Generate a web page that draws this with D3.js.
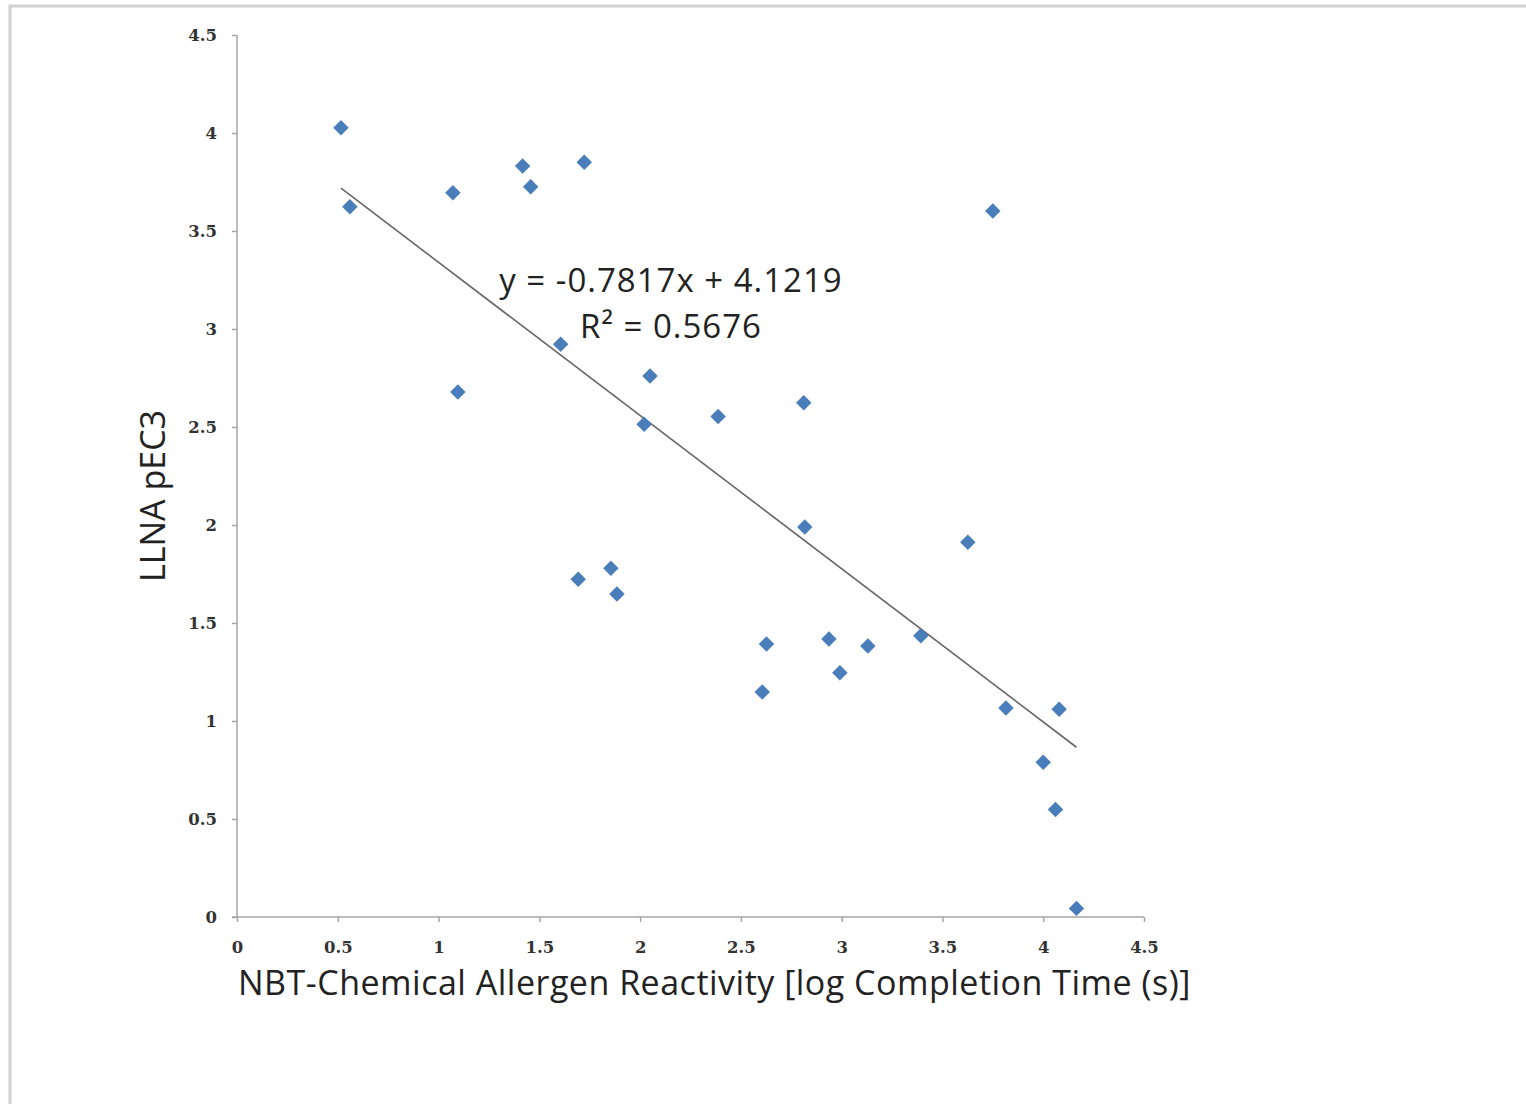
<!DOCTYPE html>
<html>
<head>
<meta charset="utf-8">
<script src="https://cdn.jsdelivr.net/npm/d3@7"></script>
<style>
    body { margin: 0; background: #fff; }
    .chart { width: 1526px; height: 1104px; }
</style>
</head>
<body>
<div class="chart"></div>
<script>
// NBT reactivity vs LLNA pEC3
let reactivity = [0.516, 0.560, 1.071, 1.096, 1.417, 1.457, 1.723, 1.606, 1.693, 1.855,
                  1.885, 2.049, 2.020, 2.387, 2.812, 2.817, 2.627, 2.937, 3.130, 3.393,
                  2.991, 2.606, 3.626, 3.750, 3.815, 4.079, 4.000, 4.061, 4.165]
let pec3 = [4.027, 3.624, 3.695, 2.679, 3.832, 3.726, 3.851, 2.922, 1.723, 1.779,
            1.648, 2.760, 2.514, 2.553, 2.624, 1.990, 1.393, 1.418, 1.383, 1.435,
            1.246, 1.148, 1.912, 3.602, 1.066, 1.060, 0.789, 0.549, 0.044]
let xTicks = [0, 0.5, 1, 1.5, 2, 2.5, 3, 3.5, 4, 4.5]
let yTicks = [0, 0.5, 1, 1.5, 2, 2.5, 3, 3.5, 4, 4.5]
let slope = -0.7817, intercept = 4.1219, r2 = 0.5676

function run() {
    let root = document.querySelector('.chart')
    let w = 1526, h = 1104
    let svg = d3.select(root).append('svg')
        .attr('width', w)
        .attr('height', h)

    // frame of the original picture (top and left edge only)
    svg.append('path')
        .attr('d', 'M10,' + h + 'V6H' + w)
        .attr('fill', 'none')
        .attr('stroke', '#d2d2d2')
        .attr('stroke-width', 3)

    let x = d3.scaleLinear().domain([0, 4.5]).range([237, 1144])
    let y = d3.scaleLinear().domain([0, 4.5]).range([917, 35])

    let tickFont = function(g) {
        g.selectAll('text')
            .attr('font-family', 'DejaVu Serif')
            .attr('font-weight', 'bold')
            .attr('font-size', '16.5px')
            .attr('fill', '#333')
        g.selectAll('path, line').attr('stroke', '#a6a6a6').attr('stroke-width', 1.5)
    }

    svg.append('g')
        .attr('transform', 'translate(0,' + y(0) + ')')
        .call(d3.axisBottom(x).tickValues(xTicks).tickFormat(d => d)
            .tickSize(5).tickSizeOuter(0).tickPadding(19))
        .call(g => g.select('.domain').remove())
        .call(g => g.append('line').attr('x1', x(0) - 5).attr('x2', x(4.5)))
        .call(tickFont)

    svg.append('g')
        .attr('transform', 'translate(' + x(0) + ',0)')
        .call(d3.axisLeft(y).tickValues(yTicks).tickFormat(d => d)
            .tickSize(5).tickSizeOuter(0).tickPadding(15))
        .call(g => g.select('.domain').remove())
        .call(g => g.append('line').attr('y1', y(0)).attr('y2', y(4.5)))
        .call(tickFont)

    // trend line over the range of the data
    let ext = d3.extent(reactivity)
    svg.append('line')
        .attr('x1', x(ext[0])).attr('y1', y(slope * ext[0] + intercept))
        .attr('x2', x(ext[1])).attr('y2', y(slope * ext[1] + intercept))
        .attr('stroke', '#666')
        .attr('stroke-width', 1.6)

    // markers
    let diamond = d3.symbol().type(d3.symbolSquare).size(120)
    svg.selectAll('.pt')
        .data(reactivity)
        .enter()
        .append('path')
        .attr('class', 'pt')
        .attr('d', diamond)
        .attr('transform', (d, i) => 'translate(' + x(d) + ',' + y(pec3[i]) + ') rotate(45)')
        .attr('fill', '#4a7ebb')

    // equation
    let eq = svg.append('text')
        .attr('text-anchor', 'middle')
        .attr('font-family', 'Open Sans')
        .attr('font-size', '33px')
        .attr('letter-spacing', '1px')
        .attr('fill', '#222')
    eq.append('tspan').attr('x', 671).attr('y', 292)
        .text('y = ' + slope + 'x + ' + intercept)
    eq.append('tspan').attr('x', 671).attr('y', 338)
        .text('R² = ' + r2)

    // axis titles
    svg.append('text')
        .attr('x', 238)
        .attr('y', 995)
        .attr('font-family', 'Open Sans')
        .attr('font-size', '34px')
        .attr('letter-spacing', '0.5px')
        .attr('fill', '#222')
        .text('NBT-Chemical Allergen Reactivity [log Completion Time (s)]')

    svg.append('text')
        .attr('transform', 'translate(165,496) rotate(-90)')
        .attr('text-anchor', 'middle')
        .attr('font-family', 'Open Sans')
        .attr('font-size', '34px')
        .attr('fill', '#222')
        .text('LLNA pEC3')
}
window.addEventListener('load', run)
</script>
</body>
</html>
